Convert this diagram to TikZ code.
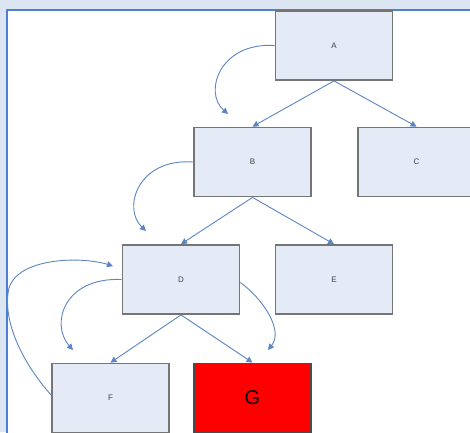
\documentclass[tikz,border=0pt]{standalone}
\usepackage{fontspec}
\setmainfont{Liberation Sans}
\usetikzlibrary{arrows.meta}
\definecolor{pagebg}{HTML}{DCE6F2}
\definecolor{frameblue}{HTML}{4F7FD0}
\definecolor{boxfill}{HTML}{E4EBF6}
\definecolor{boxline}{HTML}{757575}
\definecolor{linkblue}{HTML}{5B86C2}
\tikzset{
  box/.style={draw=boxline, line width=1.8pt, fill=boxfill, minimum width=117pt,
    minimum height=69pt, inner sep=0pt, font=\fontsize{8}{9}\selectfont, text=black!75},
  hot/.style={box, fill=red, draw=black!70, font=\fontsize{20}{22}\selectfont, text=black},
  link/.style={draw=linkblue, line width=0.9pt, -{Triangle[width=6pt,length=6pt]}},
}
\begin{document}
\begin{tikzpicture}[x=1pt,y=-1pt]
  \useasboundingbox (0,0) rectangle (470,432);
  \clip (0,0) rectangle (470,432);
  % page background and white panel
  \fill[pagebg] (0,0) rectangle (470,432);
  \draw[frameblue, line width=1.5pt, fill=white] (7,10) rectangle (480,445);

  % tree nodes
  \node[box] (A) at (334,45.5) {A};
  \node[box] (B) at (252.5,162) {B};
  \node[box] (C) at (416.5,162) {C};
  \node[box] (D) at (181,279.5) {D};
  \node[box] (E) at (334,279.5) {E};
  \node[box] (F) at (110.5,398) {F};
  \node[hot] (G) at (252.5,398) {G};

  % free ends of the curved links
  \coordinate (tA) at (228,114);
  \coordinate (tB) at (146,231);
  \coordinate (tDl) at (73,350);
  \coordinate (tDr) at (268,350);
  \coordinate (tF) at (113,266);

  % parent-child links
  \draw[link] (A.south) -- (B.north);
  \draw[link] (A.south) -- (C.north);
  \draw[link] (B.south) -- (D.north);
  \draw[link] (B.south) -- (E.north);
  \draw[link] (D.south) -- (F.north);
  \draw[link] (D.south) -- (G.north);

  % curved links
  \draw[link] (A.west) .. controls (220,42) and (203,92) .. (tA);
  \draw[link] (B.west) .. controls (138,158) and (122,208) .. (tB);
  \draw[link] (D.west) .. controls (64,277) and (50,324) .. (tDl);
  \draw[link] ([yshift=-3pt]D.east) .. controls (262,298) and (284,330) .. (tDr);
  \draw[link] ([yshift=3pt]F.west) .. controls (20,360) and (2,318) .. (9,288)
    .. controls (18,258) and (80,256) .. (tF);
\end{tikzpicture}
\end{document}
